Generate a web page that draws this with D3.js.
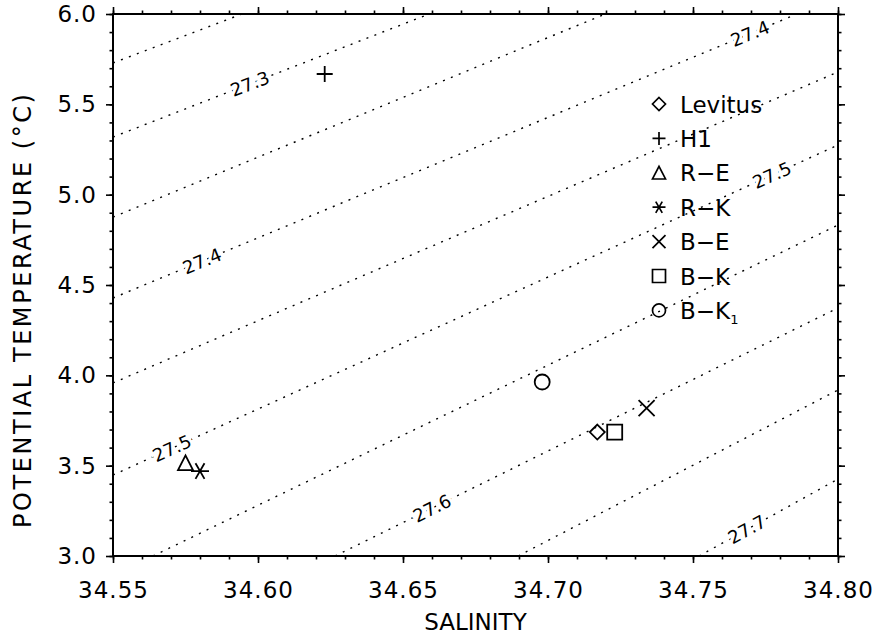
<!DOCTYPE html>
<html>
<head>
<meta charset="utf-8">
<script src="https://cdn.jsdelivr.net/npm/d3@7"></script>
<style>
  body { margin: 0; background: #fff; }
  svg { display: block; }
  text { font-family: "DejaVu Sans", sans-serif; fill: #000; }
</style>
</head>
<body>
<div class="graph"></div>
<script>
// ---- data ----
var names = ["Levitus", "H1", "R\u2212E", "R\u2212K", "B\u2212E", "B\u2212K", "B\u2212K"]
var symbols = ["diamond", "plus", "triangle", "asterisk", "cross", "square", "circle"]
var salinity = [34.717, 34.623, 34.575, 34.580, 34.734, 34.723, 34.698]
var temperature = [3.686, 5.668, 3.515, 3.470, 3.819, 3.686, 3.963]

// isopycnals (sigma-theta), end points in S / theta
var isoLevels = [27.25, 27.30, 27.35, 27.40, 27.45, 27.50, 27.55, 27.60, 27.65, 27.70]
var isoS0 = [34.550, 34.550, 34.550, 34.550, 34.550, 34.550, 34.5638, 34.6266, 34.6897, 34.7521]
var isoT0 = [5.729, 5.319, 4.876, 4.428, 3.958, 3.448, 3.0, 3.0, 3.0, 3.0]
var isoS1 = [34.5945, 34.659, 34.7197, 34.7859, 34.80, 34.80, 34.80, 34.80, 34.80, 34.80]
var isoT1 = [6.0, 6.0, 6.0, 6.0, 5.679, 5.275, 4.832, 4.373, 3.919, 3.426]

// contour labels: which level, and salinity where the label sits
var labelText = ["27.3", "27.4", "27.4", "27.5", "27.5", "27.6", "27.7"]
var labelS = [34.5972, 34.5807, 34.7697, 34.5703, 34.7772, 34.660, 34.7686]

var xTicks = [34.55, 34.60, 34.65, 34.70, 34.75, 34.80]
var yTicks = [3.0, 3.5, 4.0, 4.5, 5.0, 5.5, 6.0]

// ---- size and margin ----
var basewidth = 877, baseheight = 634
var margin = {top: 14, right: 39, bottom: 78, left: 113},
    width = basewidth - margin.left - margin.right,
    height = baseheight - margin.top - margin.bottom

var svg = d3.select('.graph')
    .append('svg')
    .attr('width', basewidth)
    .attr('height', baseheight)
var canvas = svg.append('g')
    .attr('transform', 'translate(' + margin.left + ',' + margin.top + ')')

var x = d3.scaleLinear().domain([34.55, 34.80]).range([0, width])
var y = d3.scaleLinear().domain([3.0, 6.0]).range([height, 0])

canvas.append('clipPath').attr('id', 'plotclip')
    .append('rect').attr('width', width).attr('height', height)

// ---- isopycnals ----
var iso = canvas.append('g').attr('clip-path', 'url(#plotclip)')
isoLevels.forEach(function(lev, i) {
    iso.append('line')
        .attr('x1', x(isoS0[i])).attr('y1', y(isoT0[i]))
        .attr('x2', x(isoS1[i])).attr('y2', y(isoT1[i]))
        .style('stroke', '#000')
        .style('stroke-width', 1.4)
        .style('stroke-dasharray', '2 6.5')
})

labelText.forEach(function(t, k) {
    var i = isoLevels.findIndex(function(l) { return Math.abs(l - (+t)) < 1e-6 })
    var f = (labelS[k] - isoS0[i]) / (isoS1[i] - isoS0[i])
    var th = isoT0[i] + f * (isoT1[i] - isoT0[i])
    var px = x(labelS[k]), py = y(th)
    var ang = Math.atan2(y(isoT1[i]) - y(isoT0[i]), x(isoS1[i]) - x(isoS0[i])) * 180 / Math.PI
    canvas.append('text')
        .attr('transform', 'translate(' + px + ',' + py + ') rotate(' + ang + ')')
        .attr('text-anchor', 'middle')
        .attr('dy', '0.36em')
        .style('font-size', '18px')
        .style('stroke', '#fff')
        .style('stroke-width', 6)
        .style('paint-order', 'stroke')
        .text(t)
})

// ---- axes ----
function styleAxis(g) {
    g.select('.domain').remove()
    g.selectAll('line').style('stroke', '#000').style('stroke-width', 1.6)
}
var minorX = d3.range(0, 26).map(function(i) { return 34.55 + i * 0.01 })
var minorY = d3.range(0, 31).map(function(i) { return 3.0 + i * 0.1 })

canvas.append('g').attr('transform', 'translate(0,' + height + ')')
    .call(d3.axisBottom(x).tickValues(minorX).tickSize(3.5).tickFormat('')).call(styleAxis)
canvas.append('g').call(d3.axisTop(x).tickValues(minorX).tickSize(3.5).tickFormat('')).call(styleAxis)
canvas.append('g').call(d3.axisLeft(y).tickValues(minorY).tickSize(3.5).tickFormat('')).call(styleAxis)
canvas.append('g').attr('transform', 'translate(' + width + ',0)')
    .call(d3.axisRight(y).tickValues(minorY).tickSize(3.5).tickFormat('')).call(styleAxis)

canvas.append('g').attr('transform', 'translate(0,' + height + ')')
    .call(d3.axisBottom(x).tickValues(xTicks).tickSize(7).tickPadding(19).tickFormat(d3.format('.2f')))
    .call(styleAxis)
canvas.append('g').call(d3.axisTop(x).tickValues(xTicks).tickSize(7).tickFormat('')).call(styleAxis)
canvas.append('g')
    .call(d3.axisLeft(y).tickValues(yTicks).tickSize(7).tickPadding(9).tickFormat(d3.format('.1f')))
    .call(styleAxis)
canvas.append('g').attr('transform', 'translate(' + width + ',0)')
    .call(d3.axisRight(y).tickValues(yTicks).tickSize(7).tickFormat('')).call(styleAxis)

svg.selectAll('.tick text')
    .style('font-size', '23px')
    .style('font-family', '"DejaVu Sans", sans-serif')
    .style('letter-spacing', '1px')
    .attr('fill', '#000')

canvas.append('rect')
    .attr('width', width).attr('height', height)
    .style('fill', 'none').style('stroke', '#000').style('stroke-width', 2)

// axis titles
svg.append('text')
    .attr('x', margin.left + width / 2).attr('y', 630)
    .attr('text-anchor', 'middle')
    .style('font-size', '23px')
    .text('SALINITY')
svg.append('text')
    .attr('transform', 'translate(31,311) rotate(-90)')
    .attr('text-anchor', 'middle')
    .attr('textLength', 434).attr('lengthAdjust', 'spacing')
    .style('font-size', '24px')
    .text('POTENTIAL TEMPERATURE (\u00b0C)')

// ---- markers ----
function symbolPath(kind, r) {
    var p = d3.path()
    if (kind === 'diamond') {
        p.moveTo(0, -r); p.lineTo(r, 0); p.lineTo(0, r); p.lineTo(-r, 0); p.closePath()
    } else if (kind === 'plus') {
        p.moveTo(-r, 0); p.lineTo(r, 0); p.moveTo(0, -r); p.lineTo(0, r)
    } else if (kind === 'triangle') {
        p.moveTo(0, -r); p.lineTo(r, r * 0.95); p.lineTo(-r, r * 0.95); p.closePath()
    } else if (kind === 'asterisk') {
        for (var a = 0; a < 3; a++) {
            var t = a * Math.PI / 3
            p.moveTo(-r * Math.cos(t), -r * Math.sin(t)); p.lineTo(r * Math.cos(t), r * Math.sin(t))
        }
    } else if (kind === 'cross') {
        p.moveTo(-r, -r); p.lineTo(r, r); p.moveTo(r, -r); p.lineTo(-r, r)
    } else if (kind === 'square') {
        p.rect(-r, -r, 2 * r, 2 * r)
    } else if (kind === 'circle') {
        p.moveTo(r, 0); p.arc(0, 0, r, 0, 2 * Math.PI)
    }
    return p.toString()
}
var plotR = {diamond: 7.5, plus: 8, triangle: 7.5, asterisk: 9, cross: 8, square: 7.5, circle: 7.5}

canvas.append('g').selectAll('path')
    .data(d3.range(salinity.length))
    .join('path')
    .attr('transform', function(i) { return 'translate(' + x(salinity[i]) + ',' + y(temperature[i]) + ')' })
    .attr('d', function(i) { return symbolPath(symbols[i], plotR[symbols[i]]) })
    .style('fill', 'none')
    .style('stroke', '#000')
    .style('stroke-width', 1.8)

// ---- legend ----
var legend = svg.append('g').attr('transform', 'translate(659,104)')
names.forEach(function(n, i) {
    var row = legend.append('g').attr('transform', 'translate(0,' + (i * 34.4) + ')')
    row.append('path')
        .attr('d', symbolPath(symbols[i], 6.5))
        .style('fill', 'none').style('stroke', '#000').style('stroke-width', 1.7)
    var t = row.append('text')
        .attr('x', 21).attr('y', 8.5)
        .style('font-size', '23px')
        .text(n)
    if (i === 6) t.append('tspan').attr('dy', 5).style('font-size', '13px').text('1')
})
</script>
</body>
</html>
